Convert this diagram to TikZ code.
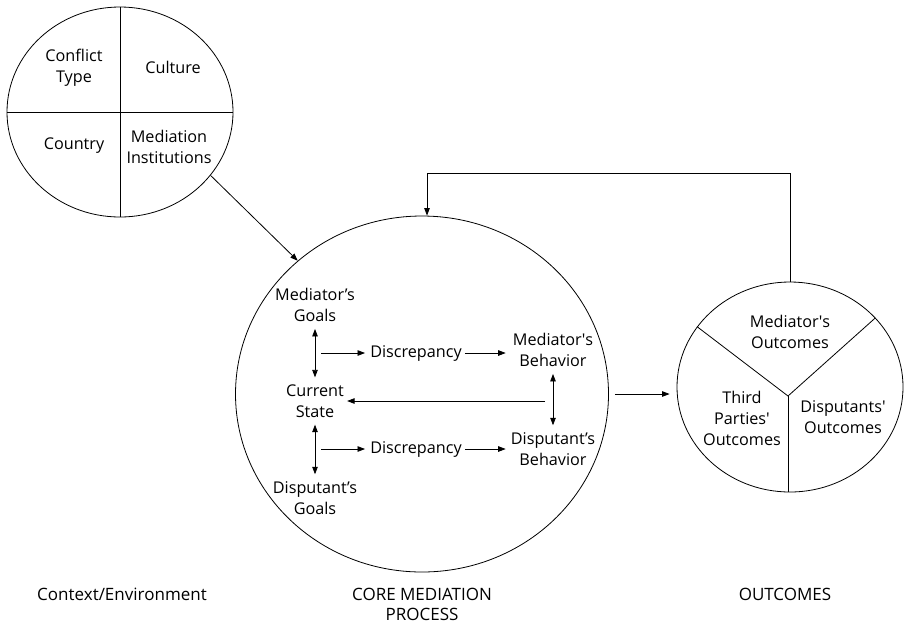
\documentclass[tikz,border=0pt]{standalone}
\usepackage{fontspec}
\setmainfont{Open Sans}
\usetikzlibrary{arrows.meta,positioning,calc,shapes.geometric}
\tikzset{
  >={Triangle[length=7.5pt,width=5.5pt]},
  blob/.style ={ellipse,draw,line width=0.8pt,inner sep=0pt},
  lbl/.style  ={align=center,font=\fontsize{16.2}{21}\selectfont,inner sep=3pt},
  captxt/.style ={align=center,font=\fontsize{17}{20}\selectfont},
  sep/.style  ={line width=0.8pt},
  ar/.style   ={->,line width=0.8pt},
  dar/.style  ={<->,line width=0.8pt,shorten <=4pt,shorten >=4pt},
}
\newcommand{\sq}{\textquotesingle}

\begin{document}
\begin{tikzpicture}[x=1pt,y=-1pt]
\useasboundingbox (0,0) rectangle (904,625);

% context / environment
\node[blob,minimum width=226pt,minimum height=210pt] (ctx) at (120,112) {};
\draw[sep] (ctx.north) -- (ctx.south);
\draw[sep] (ctx.west) -- (ctx.east);
\node[lbl] (ctype) at (74,68)  {Conflict\\Type};
\node[lbl] (cult)  at (173,67) {Culture};
\node[lbl] (ctry)  at (74,146) {Country};
\node[lbl] (inst)  at (169,147) {Mediation\\Institutions};

% core mediation process
\node[blob,minimum width=373pt,minimum height=356pt] (core) at (422,394) {};
\node[lbl] (mg) at (315,305) {Mediator’s\\Goals};
\node[lbl] (cs) at (315,401) {Current\\State};
\node[lbl] (dg) at (315,498) {Disputant’s\\Goals};
\node[lbl] (d1) at (416,353) {Discrepancy};
\node[lbl] (d2) at (416,449) {Discrepancy};
\node[lbl] (mb) at (553,350) {Mediator\sq s\\Behavior};
\node[lbl] (db) at (553,449) {Disputant’s\\Behavior};
\coordinate (m1) at (315,353);
\coordinate (m2) at (553,401);
\coordinate (m3) at (315,449);

\draw[dar] (mg) -- (cs);
\draw[dar] (cs) -- (dg);
\draw[dar] (mb) -- (db);
\draw[ar,shorten <=6pt,shorten >=2pt] (m1) -- (d1.west);
\draw[ar,shorten <=6pt,shorten >=2pt] (m3) -- (d2.west);
\draw[ar,shorten >=4pt] (d1.east) -- (d1.east -| mb.west);
\draw[ar,shorten >=2pt] (d2.east) -- (d2.east -| db.west);
\draw[ar,shorten <=8pt] (m2) -- (cs.east);

% outcomes
\node[blob,minimum width=226pt,minimum height=210pt] (out) at (790,387) {};
\coordinate (hub) at (788,396);
\draw[sep] (out.147) -- (hub) -- (out.39);
\draw[sep] (hub) -- (hub |- out.south);
\node[lbl] (mo) at (790,332) {Mediator\sq s\\Outcomes};
\node[lbl] (to) at (742,418) {Third\\Parties\sq\\Outcomes};
\node[lbl] (do) at (843,417) {Disputants\sq\\Outcomes};

% connectors
\draw[ar] (ctx.-35) -- (core.133);
\draw[ar,shorten <=6pt,shorten >=7pt] (core.east) -- (core.east -| out.west);
\coordinate (fb) at (790,173);
\draw[ar] (out.north) -- (fb) -| ([xshift=5pt]core.north);

% captions
\node[captxt] (ctxl)  at (122,594) {Context/Environment};
\node[captxt] (corel) at (422,604) {CORE MEDIATION\\PROCESS};
\node[captxt] (outl)  at (785,594) {OUTCOMES};
\end{tikzpicture}
\end{document}
